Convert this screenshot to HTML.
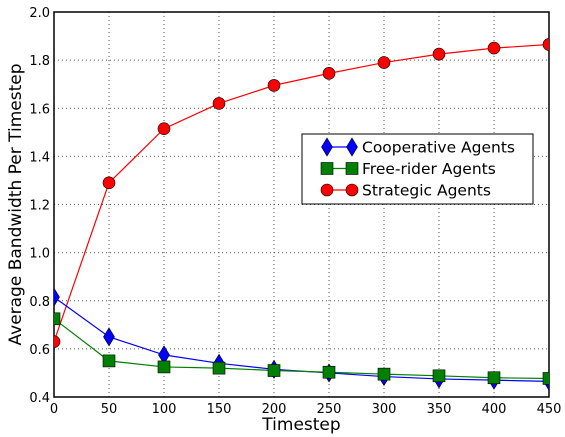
<!DOCTYPE html>
<html><head><style>body{margin:0;background:#fff}svg{display:block;font-family:"DejaVu Sans","Liberation Sans",sans-serif}</style></head>
<body>
<svg id="c" width="565" height="437"></svg>
<script>
const timesteps=[0,50,100,150,200,250,300,350,400,450];
const cooperative=[0.815,0.65,0.575,0.54,0.515,0.5,0.485,0.475,0.47,0.465];
const freerider=[0.725,0.55,0.525,0.52,0.51,0.503,0.495,0.488,0.48,0.477];
const strategic=[0.63,1.29,1.515,1.62,1.695,1.745,1.79,1.825,1.85,1.865];
const xTicks=[0,50,100,150,200,250,300,350,400,450];
const yTicks=[0.4,0.6,0.8,1.0,1.2,1.4,1.6,1.8,2.0];
const L=54,R=549,T=12,B=397;
const sx=v=>L+(v-0)/(450)*(R-L);
const sy=v=>B-(v-0.4)/1.6*(B-T);
const svg=document.getElementById('c');const NS='http://www.w3.org/2000/svg';
function el(t,a,p){const e=document.createElementNS(NS,t);for(const k in a)e.setAttribute(k,a[k]);(p||svg).appendChild(e);return e;}
xTicks.forEach(v=>{const g=el('line',{x1:sx(v),x2:sx(v),y1:T,y2:B,stroke:'#555','stroke-dasharray':'1,3','stroke-width':1});

const t=el('text',{x:sx(v),y:B+16,'text-anchor':'middle','font-size':13});t.textContent=v;
});
yTicks.forEach(v=>{const g=el('line',{x1:L,x2:R,y1:sy(v),y2:sy(v),stroke:'#555','stroke-dasharray':'1,3','stroke-width':1});

const t=el('text',{x:L-4,y:sy(v)+5,'text-anchor':'end','font-size':13});t.textContent=v.toFixed(1);
});
const ax=el('rect',{x:L,y:T,width:R-L,height:B-T,fill:'none',stroke:'#000','stroke-width':1.5});

function marker(type,x,y,fill,parent){let m;
if(type==='d')m=el('polygon',{points:`${x},${y-9} ${x+5.5},${y} ${x},${y+9} ${x-5.5},${y}`,fill,stroke:'#000','stroke-width':0.6},parent);
else if(type==='s')m=el('rect',{x:x-6,y:y-6,width:12,height:12,fill,stroke:'#000','stroke-width':0.6},parent);
else m=el('circle',{cx:x,cy:y,r:6,fill,stroke:'#000','stroke-width':0.6},parent);return m;}
const clip=el('clipPath',{id:'cp'});el('rect',{x:L,y:T,width:R-L,height:B-T},clip);
function series(vals,color,type,name){const g=el('g',{'clip-path':'url(#cp)'});

const p=el('polyline',{points:vals.map((v,i)=>sx(timesteps[i])+','+sy(v)).join(' '),fill:'none',stroke:color,'stroke-width':1.2},g);

vals.forEach((v,i)=>{const m=marker(type,sx(timesteps[i]),sy(v),color,g);
});}
series(strategic,'#ff0000','o','strategic-series');
series(cooperative,'#0000ff','d','cooperative-series');
series(freerider,'#008000','s','freerider-series');
const lg=el('g',{});
el('rect',{x:302,y:134,width:231,height:70,fill:'#fff',stroke:'#000','stroke-width':1},lg);
[['Cooperative Agents','#0000ff','d'],['Free-rider Agents','#008000','s'],['Strategic Agents','#ff0000','o']].forEach((e,i)=>{
const y=147+i*21.5;const g=el('g',{},lg);
el('line',{x1:327,x2:352,y1:y,y2:y,stroke:e[1],'stroke-width':1.2},g);marker(e[2],327,y,e[1],g);marker(e[2],352,y,e[1],g);
const t=el('text',{x:362,y:y+5.5,'font-size':15.5},g);t.textContent=e[0];});
const xt=el('text',{x:(L+R)/2,y:430,'text-anchor':'middle','font-size':17});xt.textContent='Timestep';

const yt=el('text',{x:0,y:0,'text-anchor':'middle','font-size':17,transform:`translate(21,${(T+B)/2}) rotate(-90)`});yt.textContent='Average Bandwidth Per Timestep';

</script>
</body></html>
